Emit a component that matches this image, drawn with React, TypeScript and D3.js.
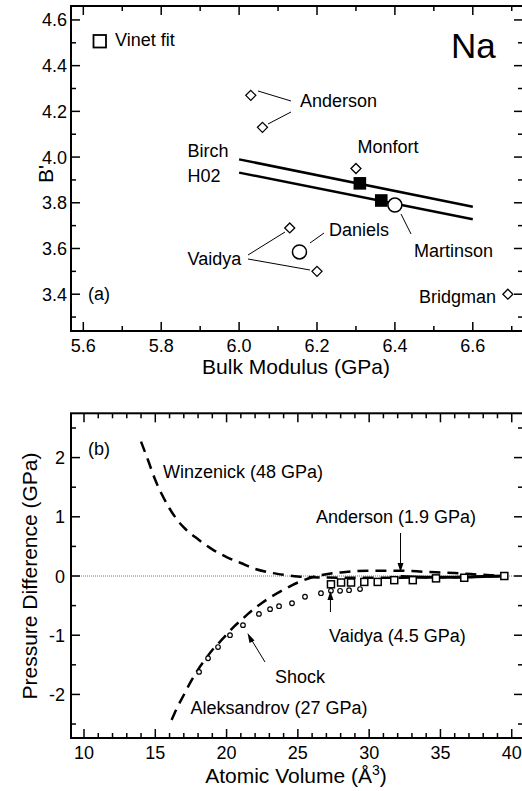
import React from "react";
import * as d3 from "d3";

// ---------- panel (a): B' versus bulk modulus ----------
const DIAMOND_K = [6.03, 6.06, 6.3, 6.13, 6.2, 6.69];
const DIAMOND_B = [4.27, 4.13, 3.95, 3.69, 3.5, 3.4];
const FILLED_SQ_K = [6.31, 6.365];
const FILLED_SQ_B = [3.885, 3.81];
const CIRCLE_K = [6.4, 6.155];
const CIRCLE_B = [3.79, 3.585];
const BIRCH_K = [6.0, 6.6];
const BIRCH_B = [3.99, 3.783];
const H02_K = [6.0, 6.6];
const H02_B = [3.932, 3.728];

const A_X_TICKS = [5.6, 5.8, 6.0, 6.2, 6.4, 6.6];
const A_X_MINOR = [5.7, 5.9, 6.1, 6.3, 6.5, 6.7];
const A_Y_TICKS = [3.4, 3.6, 3.8, 4.0, 4.2, 4.4, 4.6];
const A_Y_MINOR = [3.3, 3.5, 3.7, 3.9, 4.1, 4.3, 4.5];

// ---------- panel (b): pressure difference versus atomic volume ----------
const WINZ_V = [14.0, 14.5, 15.0, 15.5, 16.0, 16.5, 17.0, 18.0, 19.0, 20.0, 21.0, 22.0, 23.0, 24.0, 25.0, 26.0, 28.0, 30.0, 32.0, 34.0, 36.0, 38.0, 39.5];
const WINZ_P = [2.27, 1.95, 1.62, 1.36, 1.14, 0.96, 0.82, 0.62, 0.45, 0.32, 0.22, 0.12, 0.06, 0.02, -0.01, -0.02, -0.03, -0.03, -0.03, -0.02, -0.02, -0.01, 0.0];
const ALEK_V = [16.15, 16.5, 17.0, 17.5, 18.0, 18.5, 19.0, 19.5, 20.0, 20.5, 21.0, 21.5, 22.0, 22.5, 23.0, 24.0, 25.0, 26.0, 27.0, 28.0, 30.0, 32.0, 34.0, 36.0, 38.0, 39.5];
const ALEK_P = [-2.43, -2.24, -2.01, -1.78, -1.58, -1.41, -1.25, -1.12, -0.99, -0.86, -0.75, -0.64, -0.54, -0.45, -0.37, -0.23, -0.11, -0.02, 0.03, 0.06, 0.09, 0.09, 0.07, 0.05, 0.02, 0.0];
const ANDERSON_V = [32.2, 34.0, 36.0, 38.0, 39.5];
const ANDERSON_P = [-0.01, -0.02, -0.02, -0.01, 0.0];
const SHOCK_V = [18.07, 18.7, 19.4, 20.24, 21.15, 22.27, 23.05, 23.68, 24.59, 25.5, 26.62, 27.32, 27.96, 28.59, 29.36];
const SHOCK_P = [-1.62, -1.39, -1.2, -1.0, -0.83, -0.64, -0.56, -0.51, -0.46, -0.35, -0.29, -0.25, -0.25, -0.24, -0.22];
const VAIDYA_V = [27.32, 28.03, 28.73, 29.66, 30.6, 31.76, 33.06, 34.69, 36.67, 39.48];
const VAIDYA_P = [-0.14, -0.11, -0.11, -0.1, -0.1, -0.07, -0.07, -0.04, -0.03, 0.0];

const B_X_TICKS = [10, 15, 20, 25, 30, 35, 40];
const B_X_MINOR = d3.range(10, 41).filter((v) => v % 5 !== 0);
const B_Y_TICKS = [-2, -1, 0, 1, 2];
const B_Y_MINOR = [-2.5, -1.5, -0.5, 0.5, 1.5, 2.5];

const FONT = "'Liberation Sans', Arial, Helvetica, sans-serif";
const W = 522;
const H = 791;

const PA = { left: 71, right: 523, top: 6, bottom: 331 };
const PB = { left: 71, right: 523, top: 413.3, bottom: 738 };

const xA = d3.scaleLinear().domain([5.5684, 6.7289]).range([PA.left, PA.right]);
const yA = d3.scaleLinear().domain([3.239, 4.661]).range([PA.bottom, PA.top]);
const xB = d3.scaleLinear().domain([9.088, 40.79]).range([PB.left, PB.right]);
const yB = d3.scaleLinear().domain([-2.736, 2.748]).range([PB.bottom, PB.top]);

type Txt = { x: number; y: number; size?: number; anchor?: string; children: React.ReactNode };
const T = ({ x, y, size = 18, anchor = "start", children }: Txt) => (
  <text x={x} y={y} fontSize={size} textAnchor={anchor as any} fontFamily={FONT} fill="#000">
    {children}
  </text>
);

type Box = { left: number; right: number; top: number; bottom: number };
function Frame({
  box, x, y, xT, xM, yT, yM, xFmt, yFmt, yLabelEnd,
}: {
  box: Box; x: d3.ScaleLinear<number, number>; y: d3.ScaleLinear<number, number>;
  xT: number[]; xM: number[]; yT: number[]; yM: number[];
  xFmt: (v: number) => string; yFmt: (v: number) => string; yLabelEnd: number;
}) {
  const maj = 9;
  const min = 5;
  const ticks: React.ReactNode[] = [];
  const addX = (v: number, len: number, key: string) => {
    const px = x(v);
    ticks.push(<line key={key + "b"} x1={px} x2={px} y1={box.bottom} y2={box.bottom - len} />);
    ticks.push(<line key={key + "t"} x1={px} x2={px} y1={box.top} y2={box.top + len} />);
  };
  const addY = (v: number, len: number, key: string) => {
    const py = y(v);
    ticks.push(<line key={key + "l"} x1={box.left} x2={box.left + len} y1={py} y2={py} />);
    ticks.push(<line key={key + "r"} x1={box.right} x2={box.right - len} y1={py} y2={py} />);
  };
  xT.forEach((v, i) => addX(v, maj, "xt" + i));
  xM.forEach((v, i) => addX(v, min, "xm" + i));
  yT.forEach((v, i) => addY(v, maj, "yt" + i));
  yM.forEach((v, i) => addY(v, min, "ym" + i));
  return (
    <g>
      <g stroke="#000" strokeWidth={1.5}>{ticks}</g>
      <rect x={box.left} y={box.top} width={box.right - box.left} height={box.bottom - box.top}
        fill="none" stroke="#000" strokeWidth={2} />
      {xT.map((v) => (
        <T key={"xl" + v} x={x(v)} y={box.bottom + 21} anchor="middle">{xFmt(v)}</T>
      ))}
      {yT.map((v) => (
        <T key={"yl" + v} x={yLabelEnd} y={y(v) + 6.5} anchor="end">{yFmt(v)}</T>
      ))}
    </g>
  );
}

const diamond = (cx: number, cy: number, r = 5) =>
  `M${cx},${cy - r}L${cx + r},${cy}L${cx},${cy + r}L${cx - r},${cy}Z`;

const arrowHead = (tx: number, ty: number, dir: 1 | -1) =>
  // dir = 1 points downwards, -1 points upwards
  `M${tx},${ty}L${tx - 3},${ty - dir * 9}L${tx + 3},${ty - dir * 9}Z`;

export default function App() {
  const lineA = d3.line<[number, number]>().x((d) => xA(d[0])).y((d) => yA(d[1]));
  const lineB = d3.line<[number, number]>().x((d) => xB(d[0])).y((d) => yB(d[1])).curve(d3.curveMonotoneX);
  const zip = (a: number[], b: number[]) => a.map((v, i) => [v, b[i]] as [number, number]);

  const andX = xB(ANDERSON_V[0]);
  const vaiX = xB(VAIDYA_V[0]) - 0.5;

  return (
    <svg width={W} height={H} style={{ position: "absolute", left: 0, top: 0, background: "#fff" }}>
      <rect x={0} y={0} width={W} height={H} fill="#fff" />

      {/* ---------------- panel (a) ---------------- */}
      <path d={lineA(zip(BIRCH_K, BIRCH_B)) || ""} fill="none" stroke="#000" strokeWidth={2.5} />
      <path d={lineA(zip(H02_K, H02_B)) || ""} fill="none" stroke="#000" strokeWidth={2.5} />

      {/* leader lines */}
      <g stroke="#000" strokeWidth={1}>
        <line x1={258} y1={91} x2={291} y2={101} />
        <line x1={268} y1={124} x2={291} y2={112} />
        <line x1={248} y1={255} x2={285} y2={232} />
        <line x1={248} y1={259} x2={310} y2={270} />
        <line x1={310} y1={243} x2={324} y2={233} />
        <line x1={401} y1={214} x2={411} y2={234} />
      </g>

      {DIAMOND_K.map((k, i) => (
        <path key={"d" + i} d={diamond(xA(k), yA(DIAMOND_B[i]))} fill="#fff" stroke="#000" strokeWidth={1.3} />
      ))}
      {FILLED_SQ_K.map((k, i) => (
        <rect key={"s" + i} x={xA(k) - 6.3} y={yA(FILLED_SQ_B[i]) - 6.3} width={12.6} height={12.6} fill="#000" />
      ))}
      {CIRCLE_K.map((k, i) => (
        <circle key={"c" + i} cx={xA(k)} cy={yA(CIRCLE_B[i])} r={7} fill="#fff" stroke="#000" strokeWidth={1.5} />
      ))}

      <Frame box={PA} x={xA} y={yA} xT={A_X_TICKS} xM={A_X_MINOR} yT={A_Y_TICKS} yM={A_Y_MINOR}
        xFmt={(v) => v.toFixed(1)} yFmt={(v) => v.toFixed(1)} yLabelEnd={67} />

      <rect x={93.5} y={35} width={12.5} height={12.5} fill="none" stroke="#000" strokeWidth={1.8} />
      <T x={115} y={46}>Vinet fit</T>
      <T x={451} y={58} size={35}>Na</T>
      <T x={88} y={300}>(a)</T>
      <T x={300} y={107}>Anderson</T>
      <T x={357.5} y={153}>Monfort</T>
      <T x={187.5} y={157}>Birch</T>
      <T x={187.5} y={182}>H02</T>
      <T x={329} y={236}>Daniels</T>
      <T x={414} y={257}>Martinson</T>
      <T x={187.5} y={265}>Vaidya</T>
      <T x={419} y={303}>Bridgman</T>

      <T x={296} y={374} size={21} anchor="middle">Bulk Modulus (GPa)</T>
      <text transform="translate(53,174) rotate(-90)" fontSize={21} textAnchor="middle" fontFamily={FONT}>B'</text>

      {/* ---------------- panel (b) ---------------- */}
      <line x1={PB.left} x2={PB.right} y1={yB(0)} y2={yB(0)} stroke="#777" strokeWidth={1} strokeDasharray="1,1" />

      <path d={lineB(zip(WINZ_V, WINZ_P)) || ""} fill="none" stroke="#000" strokeWidth={2.5} strokeDasharray="11,7" />
      <path d={lineB(zip(ALEK_V, ALEK_P)) || ""} fill="none" stroke="#000" strokeWidth={2.5} strokeDasharray="11,7" />
      <path d={lineB(zip(ANDERSON_V, ANDERSON_P)) || ""} fill="none" stroke="#000" strokeWidth={3} />

      {SHOCK_V.map((v, i) => (
        <circle key={"sh" + i} cx={xB(v)} cy={yB(SHOCK_P[i])} r={2.3} fill="#fff" stroke="#000" strokeWidth={1.2} />
      ))}
      {VAIDYA_V.map((v, i) => (
        <rect key={"va" + i} x={xB(v) - 3.5} y={yB(VAIDYA_P[i]) - 3.5} width={7} height={7}
          fill="#fff" stroke="#000" strokeWidth={1.5} />
      ))}

      {/* arrows */}
      <g stroke="#000" strokeWidth={1}>
        <line x1={andX} x2={andX} y1={533} y2={565} />
        <line x1={vaiX} x2={vaiX} y1={612} y2={598} />
        <line x1={265} y1={662} x2={251} y2={639} />
      </g>
      <path d={arrowHead(andX, 572, 1)} fill="#000" />
      <path d={arrowHead(vaiX, 591, -1)} fill="#000" />
      <path d={`M247.5,633L254.5,640.5L249.5,643Z`} fill="#000" />

      <Frame box={PB} x={xB} y={yB} xT={B_X_TICKS} xM={B_X_MINOR} yT={B_Y_TICKS} yM={B_Y_MINOR}
        xFmt={(v) => String(v)} yFmt={(v) => String(v)} yLabelEnd={65} />

      <T x={88} y={455}>(b)</T>
      <T x={163} y={478}>Winzenick (48 GPa)</T>
      <T x={316} y={523}>Anderson (1.9 GPa)</T>
      <T x={329} y={641.5}>Vaidya (4.5 GPa)</T>
      <T x={275} y={683}>Shock</T>
      <T x={190.5} y={714}>Aleksandrov (27 GPa)</T>

      <text x={296} y={783} fontSize={21} textAnchor="middle" fontFamily={FONT}>
        Atomic Volume (Å<tspan dy={-8} fontSize={14}>3</tspan><tspan dy={8}>)</tspan>
      </text>
      <text transform="translate(37,576) rotate(-90)" fontSize={21} textAnchor="middle" fontFamily={FONT}>
        Pressure Difference (GPa)
      </text>
    </svg>
  );
}
